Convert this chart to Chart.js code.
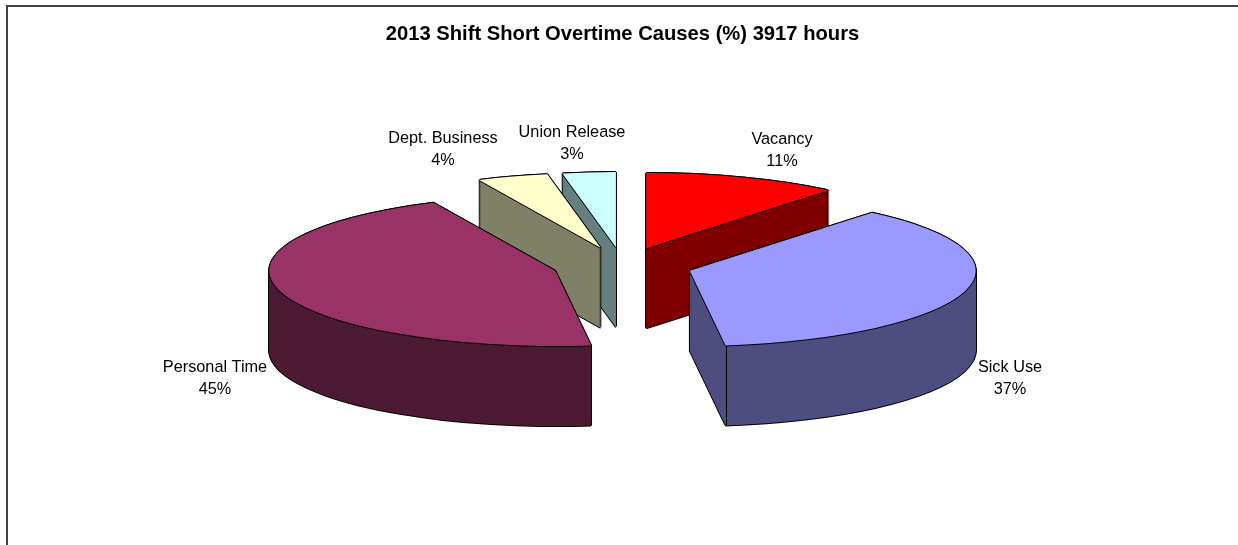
<!DOCTYPE html>
<html>
<head>
<meta charset="utf-8">
<title>2013 Shift Short Overtime Causes</title>
<script src="https://cdn.jsdelivr.net/npm/chart.js@4/dist/chart.umd.min.js"></script>
<style>
    html, body { margin: 0; padding: 0; background: #fff; overflow: hidden; }
    canvas { display: block; }
</style>
</head>
<body>
<canvas id="causesChart" width="1238" height="545"></canvas>
<script>
const chartTitle = '2013 Shift Short Overtime Causes (%) 3917 hours';
const categories = ['Vacancy', 'Sick Use', 'Personal Time', 'Dept. Business', 'Union Release'];
const shares = [11, 37, 45, 4, 3];

const topColors = ['#ff0000', '#9999ff', '#993366', '#ffffcc', '#ccffff'];
const wallColors = ['#800000', '#4d4d80', '#4d1a33', '#808066', '#668080'];

// Centre of each two-line label, same order as categories
const labelCenters = [[782, 151], [1010, 379], [215, 379], [443, 150], [572, 144]];

const SQUASH = 0.263;     // vertical scale that tips the pie backwards
const DEPTH = 80;         // height of the walls in pixels
const EXPLODE = 70;       // how far each slice is pulled out of the centre
const FONT = '"Liberation Sans", Arial, sans-serif';

// Paint one arc with a given colour, squashed and shifted in screen space
function paintArc(ctx, arc, color, shiftX, shiftY) {
    const mid = (arc.startAngle + arc.endAngle) / 2;
    const saved = arc.options;
    ctx.save();
    ctx.translate(arc.x + shiftX, arc.y + shiftY);
    ctx.scale(1, SQUASH);
    ctx.translate(-arc.x + Math.cos(mid) * EXPLODE, -arc.y + Math.sin(mid) * EXPLODE);
    arc.options = Object.assign({}, saved, { backgroundColor: color, borderWidth: 0 });
    arc.draw(ctx);
    arc.options = saved;
    ctx.restore();
}

// Stack copies of an arc on a scratch canvas, then flood the shape with one flat
// colour. Blending the copies straight onto the chart leaves faint bands in the walls.
function paintStack(ctx, scratch, color, paintCopies) {
    const sc = scratch.getContext('2d');
    sc.clearRect(0, 0, scratch.width, scratch.height);
    paintCopies(sc);
    sc.save();
    sc.globalCompositeOperation = 'source-in';
    sc.fillStyle = color;
    sc.fillRect(0, 0, scratch.width, scratch.height);
    sc.restore();
    ctx.drawImage(scratch, 0, 0);
}

// Vertical edge where a front facing cut meets the outer wall
function drawCorner(ctx, arc, angle) {
    const mid = (arc.startAngle + arc.endAngle) / 2;
    if (Math.sin(angle) <= 0) return;
    const x = arc.x + Math.cos(mid) * EXPLODE + Math.cos(angle) * arc.outerRadius;
    const y = arc.y + (Math.sin(mid) * EXPLODE + Math.sin(angle) * arc.outerRadius) * SQUASH;
    ctx.beginPath();
    ctx.moveTo(Math.round(x) + 0.5, y);
    ctx.lineTo(Math.round(x) + 0.5, y + DEPTH);
    ctx.strokeStyle = '#000';
    ctx.lineWidth = 1;
    ctx.stroke();
}

const pie3d = {
    id: 'pie3d',
    beforeDraw(chart) {
        // Only the top and left sides of the chart frame are drawn
        const ctx = chart.ctx;
        ctx.save();
        ctx.strokeStyle = '#404040';
        ctx.lineWidth = 2;
        ctx.beginPath();
        ctx.moveTo(7, chart.height);
        ctx.lineTo(7, 6);
        ctx.lineTo(chart.width, 6);
        ctx.stroke();
        ctx.restore();
    },
    beforeDatasetsDraw(chart) {
        const ctx = chart.ctx;
        const scratch = document.createElement('canvas');
        scratch.width = chart.width;
        scratch.height = chart.height;

        const arcs = chart.getDatasetMeta(0).data.map(function(arc, i) {
            return { arc: arc, index: i };
        });

        // Back slices first so the front ones cover them
        arcs.sort(function(a, b) {
            const midA = (a.arc.startAngle + a.arc.endAngle) / 2;
            const midB = (b.arc.startAngle + b.arc.endAngle) / 2;
            return Math.sin(midA) - Math.sin(midB);
        });

        arcs.forEach(function(item) {
            const arc = item.arc;
            const nudges = [[-1, 0], [1, 0], [0, -1], [0, 1]];

            // Black silhouette one pixel wider than the solid body
            paintStack(ctx, scratch, '#000', function(sc) {
                for (let d = DEPTH; d >= 0; d--) {
                    nudges.forEach(function(n) {
                        paintArc(sc, arc, '#000', n[0], d + n[1]);
                    });
                }
            });
            paintStack(ctx, scratch, wallColors[item.index], function(sc) {
                for (let d = DEPTH; d >= 1; d--) {
                    paintArc(sc, arc, '#000', 0, d);
                }
            });
            drawCorner(ctx, arc, arc.startAngle);
            drawCorner(ctx, arc, arc.endAngle);

            // Top face with its outline
            nudges.forEach(function(n) {
                paintArc(ctx, arc, '#000', n[0], n[1]);
            });
            paintArc(ctx, arc, topColors[item.index], 0, 0);
        });

        return false;
    },
    afterDraw(chart) {
        const ctx = chart.ctx;
        ctx.save();
        ctx.fillStyle = '#000';
        ctx.font = '16.3px ' + FONT;
        ctx.textAlign = 'center';
        ctx.textBaseline = 'middle';
        categories.forEach(function(name, i) {
            const c = labelCenters[i];
            ctx.fillText(name, c[0], c[1] - 11);
            ctx.fillText(shares[i] + '%', c[0], c[1] + 11);
        });
        ctx.restore();
    }
};

document.addEventListener('DOMContentLoaded', function() {
    new Chart(document.getElementById('causesChart'), {
        type: 'pie',
        data: {
            labels: categories,
            datasets: [{
                data: shares,
                backgroundColor: topColors,
                borderWidth: 0
            }]
        },
        options: {
            responsive: false,
            animation: false,
            radius: 286,
            layout: {
                padding: { left: 7, top: 0, right: 0, bottom: 64 }
            },
            plugins: {
                legend: { display: false },
                tooltip: { enabled: false },
                title: {
                    display: true,
                    text: chartTitle,
                    color: '#000',
                    font: { family: FONT, size: 20.2, weight: 'bold' },
                    padding: { top: 22, bottom: 4 }
                }
            }
        },
        plugins: [pie3d]
    });
});
</script>
</body>
</html>
